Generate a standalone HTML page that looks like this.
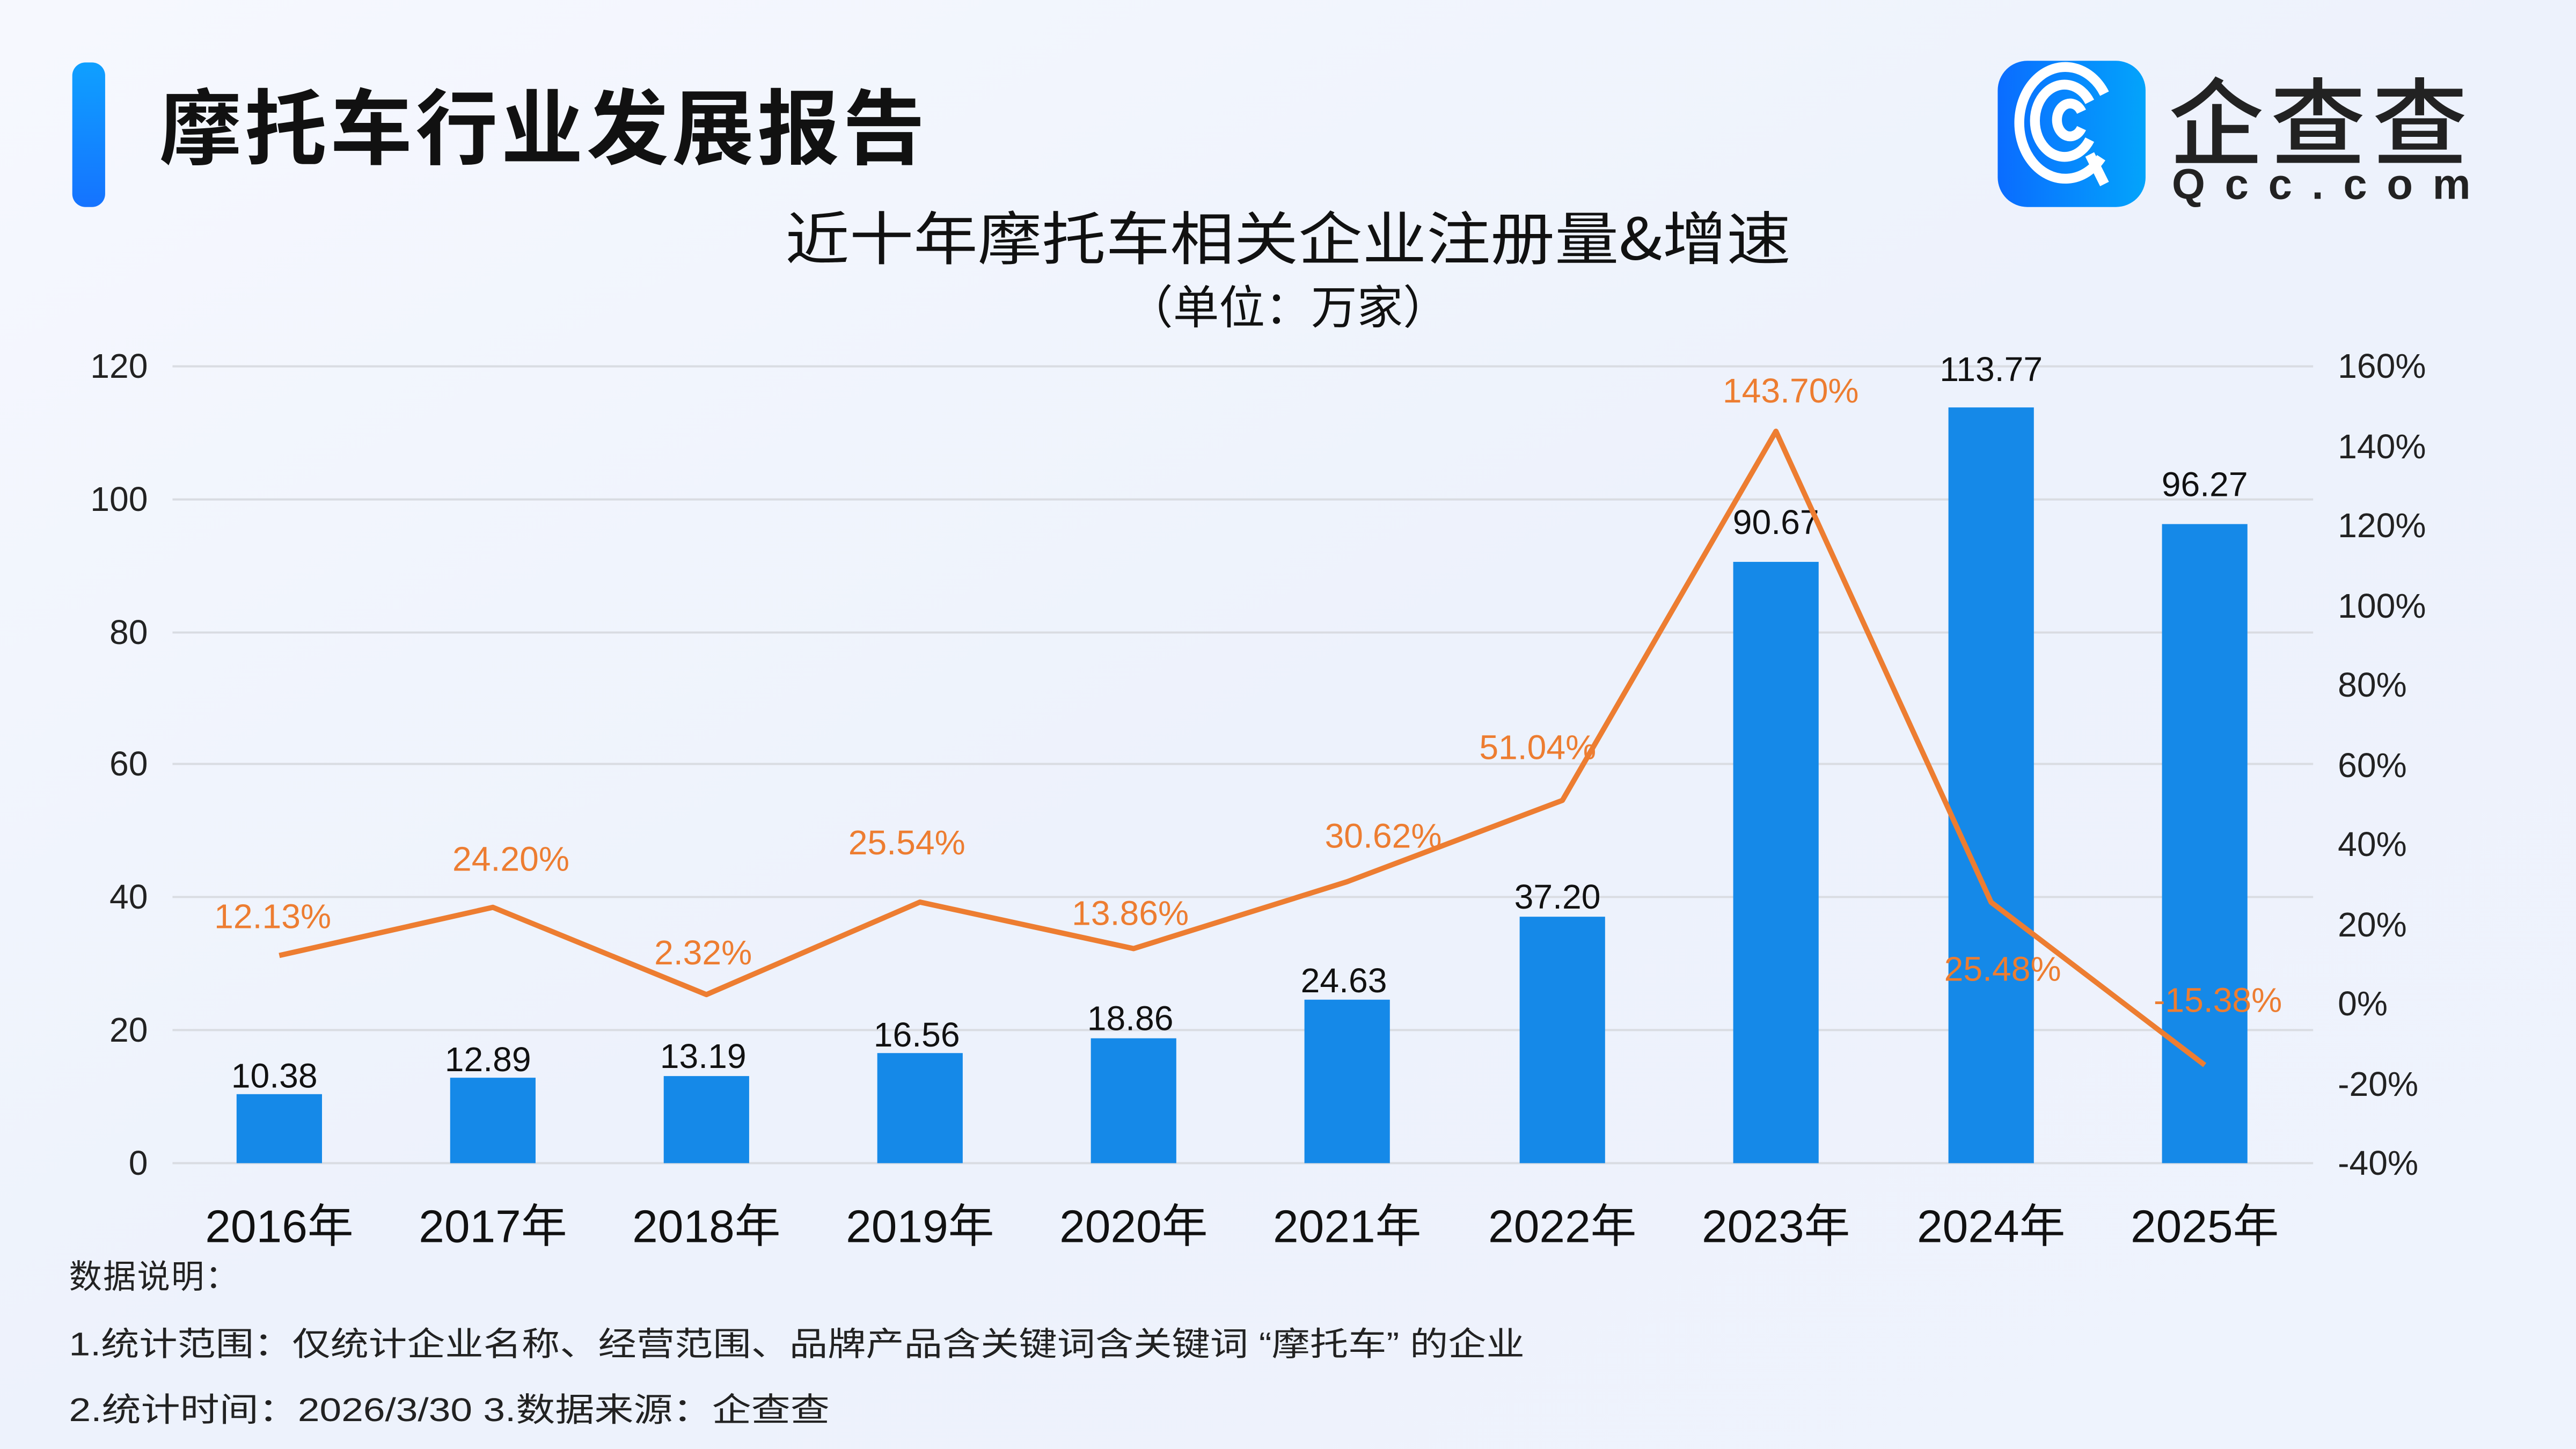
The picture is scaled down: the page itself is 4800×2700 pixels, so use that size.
<!DOCTYPE html>
<html><head><meta charset="utf-8"><style>
html,body{margin:0;padding:0;width:4800px;height:2700px;overflow:hidden;background:#f1f5fd}
svg{display:block}
text{font-family:"Liberation Sans","Noto Sans CJK SC",sans-serif}
.cj{font-family:"Noto Sans CJK SC",sans-serif}
</style></head><body>
<svg width="4800" height="2700" viewBox="0 0 1568 882" xmlns="http://www.w3.org/2000/svg">
<defs>
<linearGradient id="bg" x1="0" y1="0" x2="1" y2="1">
<stop offset="0" stop-color="#f6f8fe"/><stop offset="0.5" stop-color="#edf2fc"/><stop offset="1" stop-color="#eef3fd"/>
</linearGradient>
<linearGradient id="lg" x1="0" y1="0" x2="1" y2="0">
<stop offset="0" stop-color="#0a6cff"/><stop offset="1" stop-color="#03a4fb"/>
</linearGradient>
<linearGradient id="vb" x1="0" y1="0" x2="0" y2="1">
<stop offset="0" stop-color="#0fa0ff"/><stop offset="1" stop-color="#1573ff"/>
</linearGradient>
</defs>
<rect width="1568" height="882" fill="url(#bg)"/>
<rect x="44" y="38" width="20" height="88" rx="8" fill="url(#vb)"/>
<text x="97" y="96" font-size="50" font-weight="bold" fill="#111" textLength="466" lengthAdjust="spacing">摩托车行业发展报告</text>
<rect x="1216" y="37" width="90" height="89" rx="18" fill="url(#lg)"/>
<g fill="none" stroke="#fff" stroke-width="6">
<path d="M1279 96 A28 34 0 1 1 1281 57"/>
<path d="M1272 85 A18 22 0 1 1 1272 62"/>
<path d="M1267 78 A8 10 0 1 1 1267 68"/>
<path d="M1272 94 L1281 112"/>
</g>
<text x="1320" y="96" font-size="58" fill="#222" class="cj" font-weight="500" textLength="182">企查查</text>
<text x="1322" y="121" font-size="26" fill="#222" letter-spacing="12" font-weight="bold">Qcc.com</text>
<text x="478" y="158" font-size="35" fill="#111" class="cj" textLength="612" lengthAdjust="spacingAndGlyphs">近十年摩托车相关企业注册量&amp;增速</text>
<text x="686" y="197" font-size="28" fill="#111" class="cj" textLength="196" lengthAdjust="spacingAndGlyphs">（单位：万家）</text>
<g stroke="#d9dce2" stroke-width="1.3">
<line x1="105" y1="223" x2="1408" y2="223"/><line x1="105" y1="304" x2="1408" y2="304"/>
<line x1="105" y1="385" x2="1408" y2="385"/><line x1="105" y1="465" x2="1408" y2="465"/>
<line x1="105" y1="546" x2="1408" y2="546"/><line x1="105" y1="627" x2="1408" y2="627"/>
<line x1="105" y1="708" x2="1408" y2="708"/>
</g>
<g font-size="21" fill="#222" text-anchor="end">
<text x="90" y="230">120</text><text x="90" y="311">100</text><text x="90" y="392">80</text>
<text x="90" y="472">60</text><text x="90" y="553">40</text><text x="90" y="634">20</text><text x="90" y="715">0</text>
</g>
<g font-size="21" fill="#222">
<text x="1423" y="230">160%</text><text x="1423" y="279">140%</text><text x="1423" y="327">120%</text>
<text x="1423" y="376">100%</text><text x="1423" y="424">80%</text><text x="1423" y="473">60%</text>
<text x="1423" y="521">40%</text><text x="1423" y="570">20%</text><text x="1423" y="618">0%</text>
<text x="1423" y="667">-20%</text><text x="1423" y="715">-40%</text>
</g>
<g fill="#1589e8">
<rect x="144" y="666" width="52" height="42"/><rect x="274" y="656" width="52" height="52"/>
<rect x="404" y="655" width="52" height="53"/><rect x="534" y="641" width="52" height="67"/>
<rect x="664" y="632" width="52" height="76"/><rect x="794" y="608.5" width="52" height="99.5"/>
<rect x="925" y="558" width="52" height="150"/><rect x="1055" y="342" width="52" height="366"/>
<rect x="1186" y="248" width="52" height="460"/><rect x="1316" y="319" width="52" height="389"/>
</g>
<g font-size="21" fill="#111" text-anchor="middle">
<text x="167" y="662">10.38</text><text x="297" y="652">12.89</text><text x="428" y="650">13.19</text>
<text x="558" y="637">16.56</text><text x="688" y="627">18.86</text><text x="818" y="604">24.63</text>
<text x="948" y="553">37.20</text><text x="1081" y="325">90.67</text><text x="1212" y="232">113.77</text>
<text x="1342" y="302">96.27</text>
</g>
<polyline fill="none" stroke="#ed7d31" stroke-width="3.2" stroke-linejoin="round" points="170,581.6 300,552.3 430,605.4 560,549.1 690,577.4 820,536.7 951,487.2 1081,262.5 1212,549.2 1342,648.3"/>
<g font-size="21" fill="#ed7d31" text-anchor="middle">
<text x="166" y="565">12.13%</text><text x="311" y="530">24.20%</text><text x="428" y="587">2.32%</text>
<text x="552" y="520">25.54%</text><text x="688" y="563">13.86%</text><text x="842" y="516">30.62%</text>
<text x="936" y="462">51.04%</text><text x="1090" y="245">143.70%</text><text x="1219" y="597">25.48%</text>
<text x="1350" y="616">-15.38%</text>
</g>
<g font-size="28" fill="#111" text-anchor="middle">
<text x="170" y="756">2016年</text><text x="300" y="756">2017年</text><text x="430" y="756">2018年</text>
<text x="560" y="756">2019年</text><text x="690" y="756">2020年</text><text x="820" y="756">2021年</text>
<text x="951" y="756">2022年</text><text x="1081" y="756">2023年</text><text x="1212" y="756">2024年</text>
<text x="1342" y="756">2025年</text>
</g>
<g font-size="20" fill="#222" class="cj">
<text x="42" y="784" textLength="103">数据说明：</text>
<text x="42" y="825" textLength="886" lengthAdjust="spacingAndGlyphs">1.统计范围：仅统计企业名称、经营范围、品牌产品含关键词含关键词 “摩托车” 的企业</text>
<text x="42" y="865" textLength="463" lengthAdjust="spacingAndGlyphs">2.统计时间：2026/3/30 3.数据来源：企查查</text>
</g>
</svg>
</body></html>
